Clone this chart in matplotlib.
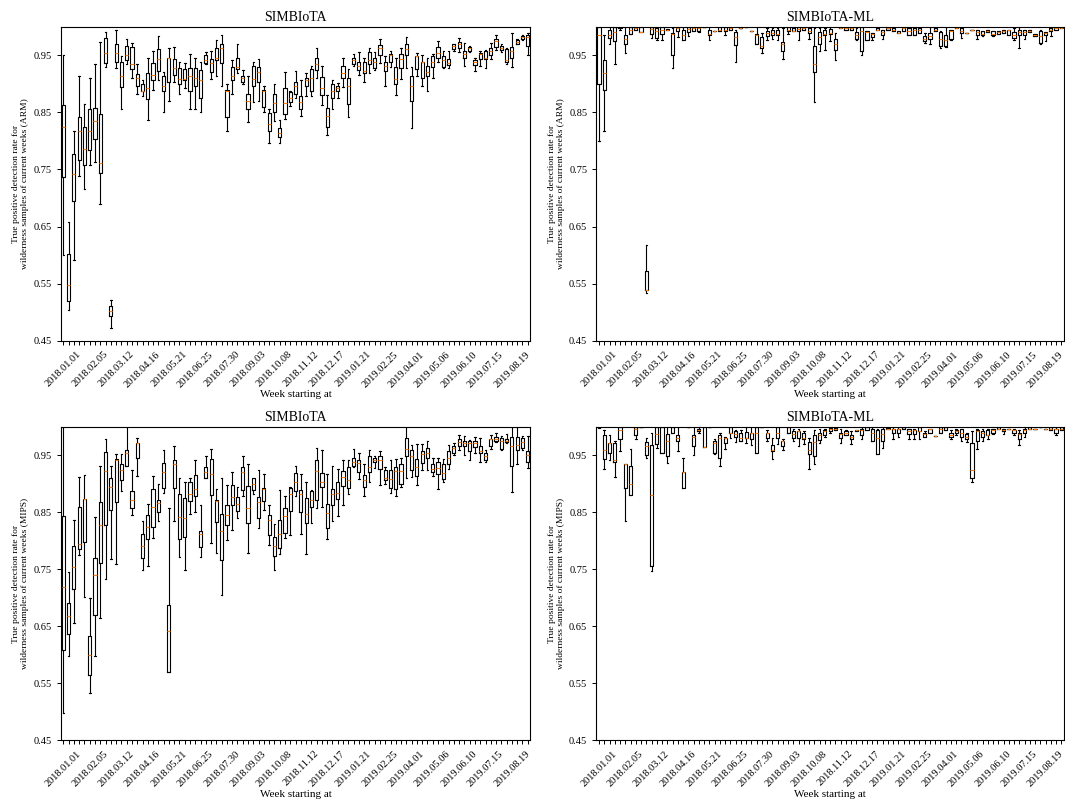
import matplotlib
matplotlib.use('Agg')
from matplotlib import pyplot as plt
import pandas as pd

plt.rcParams['font.family'] = ['Liberation Serif', 'DejaVu Serif']

# one box per week, 89 weeks starting 2018.01.01
weeks = pd.date_range('2018-01-01', periods=89, freq='7D')
week_labels = [d.strftime('%Y.%m.%d') for d in weeks]
y_ticks = [0.45, 0.55, 0.65, 0.75, 0.85, 0.95]

# ---- ARM, SIMBIoTA ----
arm_sim_lo = [0.600, 0.504, 0.591, 0.739, 0.716, 0.757, 0.763, 0.690, 0.929, 0.472,
	0.928, 0.855, 0.934, 0.910, 0.882, 0.878, 0.837, 0.890, 0.907, 0.850,
	0.870, 0.903, 0.882, 0.892, 0.855, 0.855, 0.850, 0.935, 0.908, 0.913,
	0.896, 0.817, 0.882, 0.919, 0.899, 0.833, 0.868, 0.870, 0.851, 0.796,
	0.834, 0.797, 0.839, 0.861, 0.875, 0.844, 0.878, 0.878, 0.910, 0.862,
	0.810, 0.856, 0.876, 0.894, 0.842, 0.931, 0.916, 0.903, 0.919, 0.925,
	0.937, 0.897, 0.929, 0.880, 0.908, 0.928, 0.822, 0.913, 0.897, 0.887,
	0.910, 0.939, 0.927, 0.928, 0.958, 0.956, 0.931, 0.956, 0.922, 0.931,
	0.928, 0.944, 0.960, 0.955, 0.934, 0.929, 0.969, 0.976, 0.951]
arm_sim_q1 = [0.737, 0.520, 0.694, 0.766, 0.758, 0.784, 0.803, 0.743, 0.937, 0.494,
	0.939, 0.895, 0.942, 0.926, 0.896, 0.887, 0.874, 0.907, 0.923, 0.888,
	0.903, 0.916, 0.900, 0.907, 0.887, 0.897, 0.875, 0.937, 0.921, 0.942,
	0.937, 0.841, 0.906, 0.926, 0.903, 0.856, 0.896, 0.904, 0.859, 0.818,
	0.850, 0.806, 0.847, 0.868, 0.882, 0.855, 0.896, 0.888, 0.925, 0.880,
	0.825, 0.876, 0.887, 0.910, 0.865, 0.935, 0.925, 0.919, 0.935, 0.928,
	0.951, 0.922, 0.939, 0.900, 0.927, 0.951, 0.870, 0.926, 0.911, 0.913,
	0.929, 0.946, 0.929, 0.933, 0.961, 0.963, 0.945, 0.958, 0.933, 0.944,
	0.944, 0.950, 0.964, 0.960, 0.938, 0.945, 0.970, 0.979, 0.966]
arm_sim_med = [0.825, 0.548, 0.742, 0.818, 0.785, 0.818, 0.835, 0.762, 0.954, 0.502,
	0.954, 0.914, 0.951, 0.935, 0.910, 0.888, 0.892, 0.916, 0.944, 0.897,
	0.945, 0.928, 0.908, 0.908, 0.913, 0.910, 0.906, 0.941, 0.937, 0.945,
	0.963, 0.888, 0.914, 0.929, 0.911, 0.870, 0.908, 0.921, 0.887, 0.830,
	0.866, 0.814, 0.866, 0.876, 0.897, 0.869, 0.906, 0.910, 0.934, 0.892,
	0.843, 0.888, 0.893, 0.919, 0.897, 0.942, 0.931, 0.922, 0.942, 0.938,
	0.963, 0.932, 0.951, 0.909, 0.944, 0.961, 0.896, 0.948, 0.938, 0.921,
	0.938, 0.954, 0.941, 0.937, 0.966, 0.969, 0.952, 0.963, 0.939, 0.952,
	0.946, 0.957, 0.975, 0.963, 0.942, 0.958, 0.973, 0.982, 0.982]
arm_sim_q3 = [0.863, 0.601, 0.777, 0.842, 0.824, 0.856, 0.858, 0.847, 0.980, 0.510,
	0.970, 0.938, 0.966, 0.965, 0.917, 0.900, 0.919, 0.937, 0.961, 0.913,
	0.945, 0.944, 0.928, 0.926, 0.928, 0.928, 0.925, 0.950, 0.944, 0.963,
	0.970, 0.890, 0.930, 0.946, 0.913, 0.882, 0.931, 0.930, 0.890, 0.848,
	0.883, 0.823, 0.892, 0.885, 0.904, 0.879, 0.910, 0.926, 0.945, 0.912,
	0.858, 0.900, 0.897, 0.931, 0.910, 0.945, 0.938, 0.938, 0.956, 0.946,
	0.968, 0.939, 0.952, 0.929, 0.952, 0.970, 0.914, 0.948, 0.939, 0.932,
	0.948, 0.965, 0.948, 0.944, 0.969, 0.973, 0.957, 0.965, 0.942, 0.954,
	0.957, 0.963, 0.979, 0.966, 0.961, 0.965, 0.976, 0.984, 0.985]
arm_sim_hi = [0.951, 0.658, 0.817, 0.913, 0.865, 0.911, 0.935, 0.973, 0.991, 0.521,
	0.995, 0.948, 0.979, 0.971, 0.935, 0.906, 0.946, 0.958, 0.983, 0.920,
	0.963, 0.964, 0.938, 0.937, 0.952, 0.945, 0.938, 0.956, 0.958, 0.977,
	0.986, 0.899, 0.942, 0.969, 0.925, 0.913, 0.938, 0.944, 0.897, 0.856,
	0.900, 0.837, 0.921, 0.887, 0.923, 0.907, 0.919, 0.932, 0.963, 0.931,
	0.881, 0.907, 0.901, 0.945, 0.926, 0.952, 0.956, 0.945, 0.963, 0.956,
	0.979, 0.948, 0.957, 0.946, 0.963, 0.982, 0.929, 0.954, 0.950, 0.945,
	0.952, 0.975, 0.958, 0.957, 0.970, 0.980, 0.972, 0.967, 0.946, 0.957,
	0.960, 0.972, 0.985, 0.970, 0.963, 0.989, 0.979, 0.986, 0.989]

# ---- ARM, SIMBIoTA-ML ----
arm_ml_lo = [0.799, 0.817, 0.970, 0.935, 0.995, 0.954, 0.987, 0.994, 0.990, 0.533,
	0.980, 0.976, 0.977, 0.995, 0.928, 0.982, 0.976, 0.983, 0.992, 0.990,
	0.999, 0.976, 0.992, 0.993, 0.985, 0.995, 0.938, 0.997, 0.999, 0.993,
	0.970, 0.954, 0.977, 0.978, 0.977, 0.944, 0.988, 0.992, 0.977, 0.995,
	0.979, 0.869, 0.957, 0.960, 0.975, 0.941, 0.997, 0.995, 0.995, 0.977,
	0.950, 0.976, 0.977, 0.995, 0.979, 0.995, 0.993, 0.989, 0.993, 0.985,
	0.986, 0.989, 0.972, 0.970, 0.992, 0.963, 0.965, 0.977, 0.997, 0.980,
	0.989, 0.995, 0.979, 0.983, 0.991, 0.983, 0.987, 0.989, 0.986, 0.976,
	0.963, 0.979, 0.991, 0.983, 0.970, 0.975, 0.983, 0.995, 0.997]
arm_ml_q1 = [0.900, 0.889, 0.980, 0.975, 0.997, 0.970, 0.987, 0.994, 0.990, 0.538,
	0.987, 0.981, 0.988, 0.995, 0.951, 0.992, 0.976, 0.991, 0.992, 0.993,
	0.999, 0.985, 0.992, 0.993, 0.993, 0.995, 0.968, 0.997, 0.999, 0.993,
	0.970, 0.963, 0.983, 0.986, 0.985, 0.958, 0.993, 0.992, 0.993, 0.995,
	0.989, 0.921, 0.970, 0.986, 0.988, 0.960, 0.997, 0.995, 0.995, 0.979,
	0.957, 0.976, 0.982, 0.995, 0.985, 0.995, 0.993, 0.989, 0.993, 0.985,
	0.986, 0.989, 0.975, 0.979, 0.992, 0.966, 0.966, 0.979, 0.997, 0.989,
	0.989, 0.995, 0.986, 0.985, 0.991, 0.985, 0.987, 0.989, 0.986, 0.980,
	0.985, 0.986, 0.991, 0.983, 0.972, 0.985, 0.993, 0.995, 0.997]
arm_ml_med = [0.985, 0.919, 0.985, 0.990, 0.999, 0.979, 0.995, 0.997, 0.990, 0.538,
	0.996, 0.992, 0.995, 0.995, 0.987, 0.997, 0.985, 0.996, 0.997, 0.998,
	1.000, 0.987, 0.992, 0.995, 0.995, 0.997, 0.982, 0.998, 0.999, 0.993,
	0.985, 0.967, 0.989, 0.989, 0.987, 0.970, 0.995, 0.992, 0.996, 0.997,
	0.993, 0.935, 0.982, 0.988, 0.989, 0.969, 0.998, 0.997, 0.997, 0.986,
	0.993, 0.991, 0.987, 0.995, 0.991, 0.997, 0.995, 0.989, 0.997, 0.993,
	0.995, 0.995, 0.979, 0.983, 0.995, 0.979, 0.977, 0.992, 0.998, 0.992,
	0.989, 0.995, 0.991, 0.988, 0.993, 0.987, 0.991, 0.993, 0.994, 0.985,
	0.991, 0.991, 0.993, 0.985, 0.983, 0.989, 0.995, 0.997, 0.998]
arm_ml_q3 = [1.000, 0.941, 0.994, 1.000, 1.000, 0.985, 1.000, 1.000, 1.000, 0.572,
	1.000, 0.998, 1.000, 0.996, 0.989, 1.000, 0.995, 1.000, 1.000, 1.000,
	1.000, 0.995, 0.993, 0.999, 0.999, 1.000, 0.991, 0.998, 0.999, 0.993,
	0.987, 0.982, 0.993, 0.995, 0.995, 0.973, 0.999, 0.997, 1.000, 1.000,
	0.997, 0.966, 0.991, 0.995, 0.996, 0.979, 0.999, 0.999, 0.999, 0.991,
	0.999, 0.992, 0.989, 0.998, 0.995, 0.998, 0.998, 0.992, 0.999, 0.997,
	0.998, 0.998, 0.983, 0.989, 0.997, 0.991, 0.985, 0.995, 0.999, 0.997,
	0.989, 0.995, 0.995, 0.992, 0.995, 0.992, 0.992, 0.995, 0.995, 0.991,
	0.995, 0.995, 0.995, 0.987, 0.993, 0.991, 0.997, 0.999, 0.999]
arm_ml_hi = [1.000, 0.985, 1.000, 1.000, 1.000, 1.000, 1.000, 1.000, 1.000, 0.617,
	1.000, 1.000, 1.000, 0.996, 0.998, 1.000, 1.000, 1.000, 1.000, 1.000,
	1.000, 1.000, 0.993, 0.999, 1.000, 1.000, 0.995, 0.998, 0.999, 0.993,
	1.000, 0.989, 0.998, 0.998, 0.998, 0.998, 1.000, 0.997, 1.000, 1.000,
	1.000, 0.997, 0.998, 0.998, 1.000, 0.989, 0.999, 0.999, 0.999, 0.998,
	1.000, 0.992, 0.989, 0.998, 0.995, 0.998, 0.998, 0.992, 0.999, 0.997,
	0.998, 0.998, 0.989, 0.999, 0.997, 0.992, 0.999, 0.995, 0.999, 0.997,
	0.989, 0.995, 0.995, 0.992, 0.995, 0.992, 0.992, 0.995, 0.995, 0.998,
	0.999, 0.995, 0.995, 0.987, 0.995, 0.991, 0.997, 0.999, 0.999]

# ---- MIPS, SIMBIoTA ----
mips_sim_lo = [0.498, 0.597, 0.655, 0.775, 0.701, 0.532, 0.598, 0.665, 0.733, 0.768,
	0.759, 0.887, 0.932, 0.846, 0.914, 0.749, 0.756, 0.805, 0.834, 0.884,
	0.569, 0.834, 0.772, 0.749, 0.847, 0.850, 0.771, 0.910, 0.796, 0.779,
	0.705, 0.801, 0.819, 0.840, 0.878, 0.779, 0.883, 0.822, 0.854, 0.793,
	0.749, 0.777, 0.805, 0.810, 0.879, 0.812, 0.777, 0.831, 0.857, 0.859,
	0.803, 0.834, 0.844, 0.863, 0.883, 0.929, 0.908, 0.879, 0.903, 0.928,
	0.898, 0.900, 0.884, 0.878, 0.895, 0.910, 0.912, 0.898, 0.924, 0.925,
	0.914, 0.891, 0.904, 0.926, 0.951, 0.960, 0.951, 0.942, 0.954, 0.938,
	0.939, 0.961, 0.973, 0.959, 0.971, 0.885, 0.934, 0.960, 0.928]
mips_sim_q1 = [0.608, 0.636, 0.715, 0.786, 0.797, 0.564, 0.670, 0.761, 0.828, 0.854,
	0.868, 0.906, 0.932, 0.857, 0.946, 0.769, 0.803, 0.825, 0.850, 0.893,
	0.569, 0.893, 0.803, 0.806, 0.870, 0.878, 0.789, 0.910, 0.881, 0.833,
	0.767, 0.827, 0.863, 0.852, 0.890, 0.831, 0.890, 0.840, 0.870, 0.810,
	0.774, 0.787, 0.813, 0.852, 0.887, 0.850, 0.832, 0.859, 0.872, 0.894,
	0.822, 0.863, 0.873, 0.897, 0.893, 0.932, 0.920, 0.894, 0.920, 0.939,
	0.926, 0.906, 0.893, 0.891, 0.900, 0.948, 0.925, 0.914, 0.937, 0.945,
	0.920, 0.918, 0.908, 0.935, 0.954, 0.966, 0.966, 0.957, 0.965, 0.954,
	0.942, 0.967, 0.976, 0.961, 0.973, 0.932, 0.960, 0.963, 0.939]
mips_sim_med = [0.718, 0.667, 0.754, 0.795, 0.873, 0.599, 0.740, 0.828, 0.923, 0.895,
	0.941, 0.925, 0.954, 0.872, 0.971, 0.791, 0.824, 0.859, 0.867, 0.920,
	0.642, 0.934, 0.841, 0.840, 0.883, 0.891, 0.812, 0.920, 0.917, 0.869,
	0.818, 0.846, 0.877, 0.865, 0.920, 0.857, 0.900, 0.868, 0.891, 0.836,
	0.790, 0.812, 0.844, 0.882, 0.903, 0.882, 0.847, 0.871, 0.922, 0.904,
	0.849, 0.883, 0.884, 0.912, 0.907, 0.939, 0.937, 0.907, 0.929, 0.942,
	0.942, 0.910, 0.908, 0.922, 0.922, 0.961, 0.948, 0.929, 0.953, 0.954,
	0.926, 0.928, 0.919, 0.945, 0.963, 0.973, 0.972, 0.972, 0.972, 0.957,
	0.948, 0.978, 0.979, 0.976, 0.976, 0.967, 0.969, 0.973, 0.951]
mips_sim_q3 = [0.844, 0.690, 0.791, 0.860, 0.873, 0.632, 0.769, 0.868, 0.956, 0.910,
	0.944, 0.934, 0.959, 0.888, 0.972, 0.812, 0.845, 0.891, 0.871, 0.937,
	0.687, 0.942, 0.883, 0.875, 0.903, 0.915, 0.818, 0.929, 0.944, 0.871,
	0.847, 0.863, 0.898, 0.877, 0.929, 0.897, 0.910, 0.877, 0.893, 0.845,
	0.806, 0.837, 0.857, 0.893, 0.919, 0.890, 0.875, 0.887, 0.941, 0.919,
	0.864, 0.891, 0.903, 0.922, 0.929, 0.945, 0.941, 0.916, 0.949, 0.945,
	0.948, 0.925, 0.924, 0.929, 0.935, 0.980, 0.960, 0.944, 0.957, 0.963,
	0.934, 0.938, 0.935, 0.957, 0.966, 0.979, 0.975, 0.975, 0.976, 0.967,
	0.955, 0.979, 0.983, 0.980, 0.979, 0.982, 0.982, 0.980, 0.957]
mips_sim_hi = [1.000, 0.746, 0.836, 0.912, 0.916, 0.699, 0.842, 0.932, 0.979, 0.931,
	0.953, 0.953, 1.000, 0.925, 0.980, 0.834, 0.865, 0.914, 0.900, 0.959,
	0.857, 0.967, 0.910, 0.904, 0.910, 0.941, 0.863, 0.949, 0.961, 0.891,
	0.910, 0.898, 0.920, 0.894, 0.949, 0.935, 0.910, 0.925, 0.918, 0.863,
	0.830, 0.890, 0.879, 0.894, 0.932, 0.917, 0.904, 0.890, 0.963, 0.959,
	0.918, 0.932, 0.926, 0.941, 0.941, 0.961, 0.955, 0.934, 0.960, 0.948,
	0.957, 0.929, 0.942, 0.944, 0.945, 1.000, 0.969, 0.970, 0.970, 0.976,
	0.945, 0.945, 0.944, 0.969, 0.972, 0.986, 0.984, 0.977, 0.983, 0.980,
	0.960, 0.986, 0.990, 0.984, 0.988, 1.000, 1.000, 0.984, 0.984]

# ---- MIPS, SIMBIoTA-ML ----
mips_ml_lo = [0.998, 0.926, 0.941, 0.912, 0.957, 0.834, 0.881, 0.978, 0.999, 0.945,
	0.747, 0.963, 0.954, 0.937, 0.989, 0.958, 0.893, 0.999, 0.951, 0.990,
	0.965, 0.999, 0.953, 0.931, 0.961, 0.980, 0.973, 0.975, 0.972, 0.969,
	0.954, 0.999, 0.975, 0.944, 0.970, 0.959, 0.990, 0.975, 0.966, 0.970,
	0.926, 0.935, 0.972, 0.982, 0.990, 0.994, 0.972, 0.986, 0.970, 0.993,
	0.978, 0.994, 0.975, 0.953, 0.963, 0.996, 0.978, 0.982, 0.996, 0.978,
	0.978, 0.978, 0.982, 0.990, 0.984, 0.990, 0.994, 0.978, 0.986, 0.976,
	0.973, 0.903, 0.961, 0.976, 0.978, 0.988, 0.996, 0.988, 0.996, 0.986,
	0.969, 0.983, 0.996, 0.996, 0.999, 0.996, 0.995, 0.986, 0.995]
mips_ml_q1 = [0.999, 0.944, 0.955, 0.939, 0.978, 0.893, 0.881, 0.986, 0.999, 0.951,
	0.756, 0.970, 0.954, 0.949, 0.989, 0.975, 0.893, 0.999, 0.967, 0.992,
	0.965, 0.999, 0.954, 0.945, 0.972, 0.989, 0.983, 0.975, 0.980, 0.978,
	0.954, 0.999, 0.980, 0.957, 0.980, 0.967, 0.990, 0.980, 0.980, 0.978,
	0.952, 0.948, 0.977, 0.986, 0.993, 0.994, 0.980, 0.986, 0.978, 0.993,
	0.986, 0.994, 0.975, 0.953, 0.976, 0.996, 0.989, 0.989, 0.996, 0.988,
	0.988, 0.992, 0.983, 0.990, 0.984, 0.990, 0.994, 0.982, 0.990, 0.983,
	0.978, 0.910, 0.975, 0.983, 0.985, 0.990, 0.996, 0.992, 0.996, 0.989,
	0.978, 0.990, 0.996, 0.996, 0.999, 0.996, 0.995, 0.990, 0.995]
mips_ml_med = [1.000, 0.960, 0.971, 0.942, 0.995, 0.935, 0.900, 0.996, 1.000, 0.967,
	0.881, 0.988, 0.999, 0.975, 0.999, 0.980, 0.920, 1.000, 0.983, 0.995,
	0.965, 1.000, 0.972, 0.980, 0.980, 0.989, 0.988, 0.980, 0.980, 0.989,
	0.989, 1.000, 0.989, 0.959, 0.990, 0.975, 0.999, 0.987, 0.992, 0.980,
	0.960, 0.973, 0.985, 0.992, 0.996, 0.996, 0.988, 0.989, 0.983, 0.994,
	0.994, 0.999, 0.989, 0.980, 0.988, 0.997, 0.996, 0.996, 0.999, 0.992,
	0.994, 0.992, 0.988, 0.996, 0.984, 0.996, 0.999, 0.986, 0.992, 0.990,
	0.983, 0.924, 0.992, 0.989, 0.986, 0.994, 0.997, 0.995, 0.996, 0.994,
	0.988, 0.995, 0.997, 0.996, 0.999, 0.996, 0.996, 0.996, 0.996]
mips_ml_q3 = [1.000, 0.985, 0.972, 0.972, 1.000, 0.935, 0.931, 1.000, 1.000, 0.973,
	0.969, 1.000, 1.000, 0.988, 1.000, 0.985, 0.920, 1.000, 0.985, 0.997,
	1.000, 1.000, 0.975, 0.986, 0.980, 1.000, 0.992, 0.989, 0.991, 0.990,
	1.000, 1.000, 0.989, 0.969, 1.000, 0.976, 1.000, 0.992, 0.992, 0.989,
	0.973, 0.985, 0.989, 0.995, 0.998, 0.998, 0.990, 0.992, 0.985, 0.994,
	0.996, 1.000, 0.997, 0.994, 0.996, 0.998, 0.997, 0.996, 1.000, 0.996,
	0.995, 0.999, 0.990, 0.996, 0.984, 1.000, 1.000, 0.989, 0.995, 0.996,
	0.988, 0.972, 0.994, 0.992, 0.994, 0.996, 0.999, 0.996, 0.996, 0.995,
	0.990, 0.996, 0.999, 0.996, 0.999, 0.996, 0.999, 0.997, 0.999]
mips_ml_hi = [1.000, 0.994, 0.986, 0.976, 1.000, 0.935, 0.961, 1.000, 1.000, 0.980,
	0.989, 1.000, 1.000, 1.000, 1.000, 1.000, 0.946, 1.000, 1.000, 1.000,
	1.000, 1.000, 0.978, 0.989, 0.983, 1.000, 0.995, 0.994, 0.999, 1.000,
	1.000, 1.000, 0.995, 0.980, 1.000, 0.978, 1.000, 0.997, 0.996, 0.992,
	0.980, 0.994, 0.996, 0.997, 1.000, 1.000, 0.996, 0.995, 0.992, 0.995,
	0.999, 1.000, 1.000, 0.996, 0.999, 1.000, 1.000, 1.000, 1.000, 0.997,
	0.997, 1.000, 0.992, 0.996, 0.984, 1.000, 1.000, 0.994, 0.997, 0.997,
	0.990, 0.992, 0.997, 0.996, 0.996, 0.997, 0.999, 0.997, 0.996, 0.997,
	0.995, 0.999, 0.999, 0.996, 0.999, 0.996, 0.999, 0.999, 0.999]


def MakeStats(lo, q1, med, q3, hi):
	stats = []
	for i in range(len(med)):
		stats.append({'whislo': lo[i], 'q1': q1[i], 'med': med[i],
			'q3': q3[i], 'whishi': hi[i], 'fliers': []})
	return stats


def DrawPanel(ax, stats, title, ylabel):
	positions = list(range(1, len(stats) + 1))
	line = dict(color='black', linewidth=0.8)
	ax.bxp(stats, positions, widths=0.6, showfliers=False,
		boxprops=line, whiskerprops=line, capprops=line,
		medianprops=dict(color='#ff7f0e', linewidth=0.8))
	ax.set_xlim(0.5, len(stats) + 0.5)
	ax.set_ylim(0.45, 1.0)
	ax.set_yticks(y_ticks)
	ax.set_yticklabels(['{:.2f}'.format(t) for t in y_ticks], fontsize=7.5)
	ax.set_xticks(positions)
	labels = [lab if i % 5 == 0 else '' for i, lab in enumerate(week_labels)]
	ax.set_xticklabels(labels, rotation=45, fontsize=7.5)
	ax.tick_params(length=3, width=0.7)
	ax.set_title(title, fontsize=10, pad=4)
	ax.set_xlabel('Week starting at', fontsize=8, labelpad=1)
	ax.set_ylabel(ylabel, fontsize=6.8, labelpad=3)
	for s in ax.spines.values():
		s.set_linewidth(0.8)


fig = plt.figure(figsize=(10.65, 8.05), dpi=100)
ax_tl = fig.add_axes([0.057, 0.5768, 0.441, 0.390])
ax_tr = fig.add_axes([0.560, 0.5768, 0.439, 0.390])
ax_bl = fig.add_axes([0.057, 0.0807, 0.441, 0.389])
ax_br = fig.add_axes([0.560, 0.0807, 0.439, 0.389])

arm_label = 'True positive detection rate for\nwilderness samples of current weeks (ARM)'
mips_label = 'True positive detection rate for\nwilderness samples of current weeks (MIPS)'

DrawPanel(ax_tl, MakeStats(arm_sim_lo, arm_sim_q1, arm_sim_med, arm_sim_q3, arm_sim_hi),
	'SIMBIoTA', arm_label)
DrawPanel(ax_tr, MakeStats(arm_ml_lo, arm_ml_q1, arm_ml_med, arm_ml_q3, arm_ml_hi),
	'SIMBIoTA-ML', arm_label)
DrawPanel(ax_bl, MakeStats(mips_sim_lo, mips_sim_q1, mips_sim_med, mips_sim_q3, mips_sim_hi),
	'SIMBIoTA', mips_label)
DrawPanel(ax_br, MakeStats(mips_ml_lo, mips_ml_q1, mips_ml_med, mips_ml_q3, mips_ml_hi),
	'SIMBIoTA-ML', mips_label)

fig.savefig('out.png', dpi=100)
